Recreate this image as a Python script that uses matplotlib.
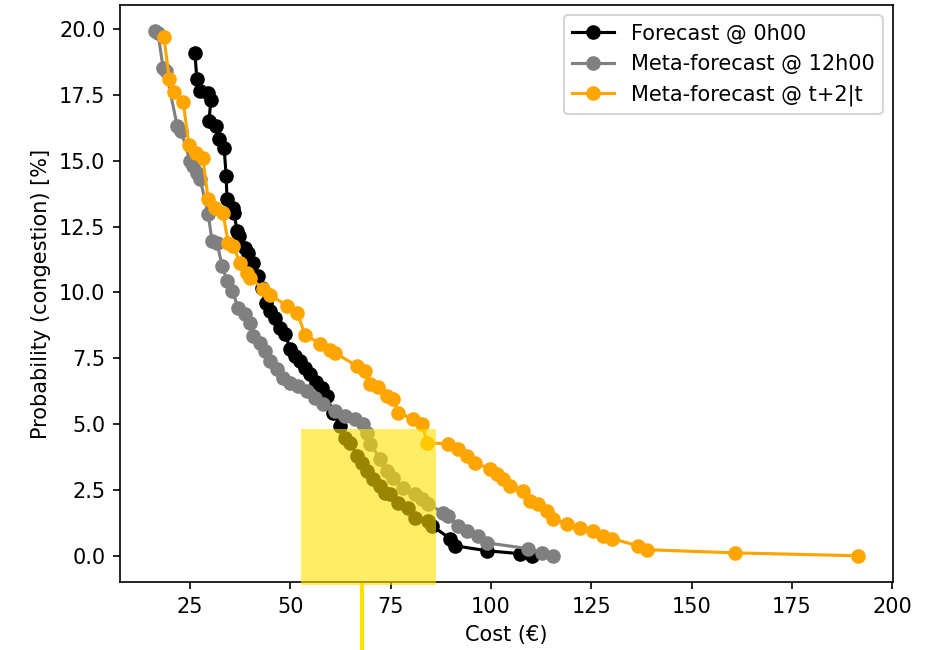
import matplotlib
matplotlib.use("Agg")
from matplotlib import pyplot as plt
from matplotlib.patches import Rectangle

# cost (EUR) vs probability of congestion (%) for each forecast
cost_fc = [26.2, 26.7, 27.5, 29.5, 30.2, 29.7, 31.5, 32.2, 33.5, 34.0, 34.2, 35.7, 36.0,
           36.7, 37.2, 38.7, 39.5, 40.7, 41.9, 42.9, 43.9, 44.9, 46.2, 47.4, 48.7, 49.9,
           51.2, 52.4, 53.7, 54.9, 56.4, 57.9, 59.1, 60.6, 62.4, 63.6, 64.9, 66.6, 67.9,
           69.1, 70.6, 72.4, 73.6, 74.8, 76.8, 79.3, 81.1, 84.3, 85.3, 89.8, 91.0, 99.0,
           107.2, 110.2]
prob_fc = [19.09, 18.10, 17.65, 17.57, 17.31, 16.51, 16.32, 15.83, 15.48, 14.42, 13.55,
           13.21, 13.02, 12.33, 12.14, 11.69, 11.50, 11.12, 10.63, 10.17, 9.60, 9.30, 9.03,
           8.65, 8.43, 7.86, 7.59, 7.40, 7.13, 6.91, 6.60, 6.38, 6.07, 5.43, 4.93, 4.48,
           4.29, 3.80, 3.53, 3.23, 2.92, 2.66, 2.39, 2.35, 2.01, 1.82, 1.44, 1.33, 1.14,
           0.65, 0.38, 0.19, 0.08, 0.0]

cost_meta12 = [16.3, 17.0, 18.3, 19.0, 21.8, 22.8, 25.0, 25.7, 26.7, 27.5, 29.5, 30.5, 31.7,
               33.0, 34.2, 35.5, 37.0, 38.7, 40.0, 40.7, 42.4, 43.7, 44.9, 46.7, 48.2, 49.9,
               51.9, 54.2, 56.2, 58.1, 61.1, 63.6, 66.1, 68.1, 69.1, 69.9, 72.4, 74.1, 75.6,
               78.1, 81.1, 82.8, 84.3, 88.1, 89.3, 91.8, 94.0, 96.8, 99.0, 109.2, 112.7, 115.4]
prob_meta12 = [19.92, 19.85, 18.52, 18.41, 16.32, 16.13, 14.99, 14.80, 14.53, 14.31, 12.98,
               11.95, 11.88, 11.01, 10.44, 10.06, 9.41, 9.18, 8.84, 8.35, 8.08, 7.78, 7.40,
               7.10, 6.76, 6.57, 6.45, 6.26, 6.00, 5.77, 5.50, 5.31, 5.20, 5.01, 4.67, 4.25,
               3.68, 3.23, 2.96, 2.58, 2.35, 2.16, 1.97, 1.63, 1.52, 1.14, 0.95, 0.76, 0.49,
               0.27, 0.11, 0.0]

cost_meta_t2 = [18.5, 19.8, 21.0, 23.3, 24.7, 26.5, 28.2, 29.5, 31.2, 33.2, 34.5, 35.7, 37.5,
                39.2, 40.0, 43.2, 44.9, 49.2, 51.7, 53.7, 57.4, 59.9, 61.1, 66.6, 68.6, 69.9,
                71.9, 74.1, 75.6, 76.8, 80.6, 82.8, 84.1, 89.3, 91.8, 94.0, 96.0, 99.8, 101.5,
                103.0, 104.7, 108.0, 109.7, 111.7, 113.9, 115.4, 118.9, 122.2, 125.4, 127.9,
                130.2, 136.6, 138.9, 160.8, 191.4]
prob_meta_t2 = [19.70, 18.10, 17.61, 17.23, 15.60, 15.29, 15.10, 13.55, 13.21, 13.02, 11.88,
                11.76, 11.12, 10.74, 10.55, 10.13, 9.91, 9.49, 9.22, 8.39, 8.05, 7.82, 7.70,
                7.21, 7.02, 6.53, 6.41, 6.07, 5.96, 5.43, 5.20, 5.01, 4.29, 4.25, 4.06, 3.80,
                3.53, 3.30, 3.11, 2.92, 2.66, 2.47, 2.09, 1.97, 1.71, 1.40, 1.21, 1.06, 0.95,
                0.76, 0.65, 0.38, 0.23, 0.11, 0.0]

# highlighted zone
zone_cost = (52.7, 86.3)
zone_prob = 4.82
marker_cost = 67.9

fig = plt.figure(figsize=(932 / 150, 650 / 150), dpi=150)
ax = fig.add_axes([120 / 932, 1 - 582 / 650, 773 / 932, 577 / 650])

ax.plot(cost_fc, prob_fc, 'o-', color='black', label='Forecast @ 0h00')
ax.plot(cost_meta12, prob_meta12, 'o-', color='grey', label='Meta-forecast @ 12h00')
ax.plot(cost_meta_t2, prob_meta_t2, 'o-', color='orange', label='Meta-forecast @ t+2|t')

ax.set_xlabel('Cost (€)')
ax.set_ylabel('Probability (congestion) [%]')
ax.legend(loc='upper right')

xl, yl = ax.get_xlim(), ax.get_ylim()

# yellow box over the zone, running a little past the x axis
bottom = yl[0] - 0.005 * (yl[1] - yl[0])
ax.add_patch(Rectangle((zone_cost[0], bottom), zone_cost[1] - zone_cost[0], zone_prob - bottom,
                       color='#FFE100', alpha=0.6, lw=0, zorder=3, clip_on=False))
ax.plot([marker_cost, marker_cost], [-0.006, -0.13], color='#FFE100', lw=2,
        transform=ax.get_xaxis_transform(), clip_on=False)

ax.set_xlim(xl)
ax.set_ylim(yl)

fig.savefig('out.png', dpi=150)
